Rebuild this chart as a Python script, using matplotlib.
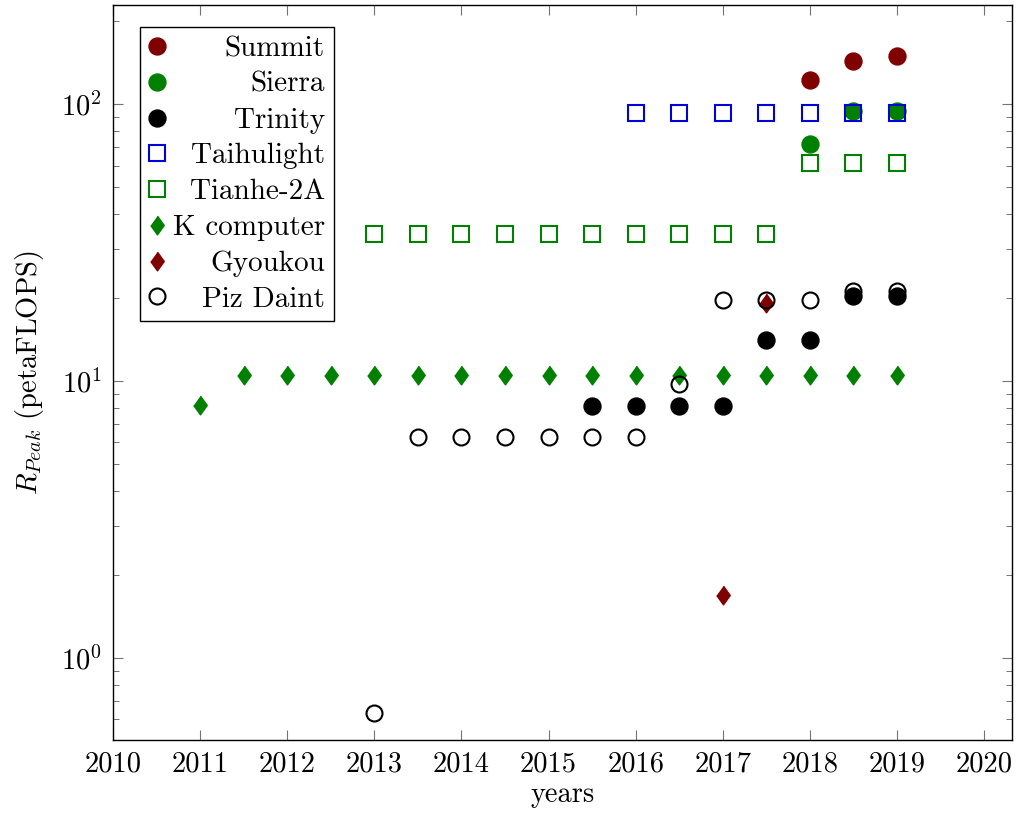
import matplotlib
matplotlib.use("Agg")
import matplotlib.pyplot as plt
from matplotlib.ticker import LogLocator, FixedLocator, NullFormatter

plt.rcParams['font.family'] = 'serif'
plt.rcParams['font.serif'] = ['cmr10']
plt.rcParams['mathtext.fontset'] = 'cm'
plt.rcParams['axes.unicode_minus'] = False
plt.rcParams['axes.formatter.use_mathtext'] = True

summit_x = [2018, 2018.5, 2019]
summit_y = [122.3, 143.5, 148.6]
sierra_x = [2018, 2018.5, 2019]
sierra_y = [71.6, 94.6, 94.6]
trinity_x = [2015.5, 2016, 2016.5, 2017, 2017.5, 2018, 2018.5, 2019]
trinity_y = [8.1, 8.1, 8.1, 8.1, 14.1, 14.1, 20.2, 20.2]
taihu_x = [2016, 2016.5, 2017, 2017.5, 2018, 2018.5, 2019]
taihu_y = [93.0, 93.0, 93.0, 93.0, 93.0, 93.0, 93.0]
tianhe_x = [2013, 2013.5, 2014, 2014.5, 2015, 2015.5, 2016, 2016.5, 2017, 2017.5, 2018, 2018.5, 2019]
tianhe_y = [33.9, 33.9, 33.9, 33.9, 33.9, 33.9, 33.9, 33.9, 33.9, 33.9, 61.4, 61.4, 61.4]
k_x = [2011, 2011.5, 2012, 2012.5, 2013, 2013.5, 2014, 2014.5, 2015, 2015.5, 2016, 2016.5, 2017, 2017.5, 2018, 2018.5, 2019]
k_y = [8.16, 10.51, 10.51, 10.51, 10.51, 10.51, 10.51, 10.51, 10.51, 10.51, 10.51, 10.51, 10.51, 10.51, 10.51, 10.51, 10.51]
gyoukou_x = [2017, 2017.5]
gyoukou_y = [1.68, 19.1]
piz_x = [2013, 2013.5, 2014, 2014.5, 2015, 2015.5, 2016, 2016.5, 2017, 2017.5, 2018, 2018.5, 2019]
piz_y = [0.63, 6.27, 6.27, 6.27, 6.27, 6.27, 6.27, 9.78, 19.6, 19.6, 19.6, 21.2, 21.2]

xticks = [2010, 2011, 2012, 2013, 2014, 2015, 2016, 2017, 2018, 2019, 2020]

maroon = (0.5, 0, 0)
green = (0, 0.5, 0)
diamond = [(0, 1), (0.72, 0), (0, -1), (-0.72, 0)]

fig = plt.figure(figsize=(10.19, 8.14), dpi=100)
ax = fig.add_axes([113/1019, 1-740/814, (1012-113)/1019, (740-5)/814])

kw = dict(linestyle='none')
ax.plot(summit_x, summit_y, marker='o', ms=12.2, color=maroon, mec=maroon, label='Summit', **kw)
ax.plot(sierra_x, sierra_y, marker='o', ms=12.2, color=green, mec=green, label='Sierra', **kw)
ax.plot(trinity_x, trinity_y, marker='o', ms=12.2, color='black', label='Trinity', **kw)
ax.plot(taihu_x, taihu_y, marker='s', ms=11, mfc='none', mec=(0, 0, 0.85), mew=1.5, label='Taihulight', **kw)
ax.plot(tianhe_x, tianhe_y, marker='s', ms=11, mfc='none', mec=green, mew=1.5, label='Tianhe-2A', **kw)
ax.plot(k_x, k_y, marker=diamond, ms=13.5, color=green, mec=green, label='K computer', **kw)
ax.plot(gyoukou_x, gyoukou_y, marker=diamond, ms=13.5, color=maroon, mec=maroon, label='Gyoukou', **kw)
ax.plot(piz_x, piz_y, marker='o', ms=11.5, mfc='none', mec='black', mew=1.5, label='Piz Daint', **kw)

ax.set_yscale('log')
ax.set_xlim(2010, 2020.32)
ax.set_ylim(0.505, 228)
ax.xaxis.set_major_locator(FixedLocator(xticks))
ax.set_xticklabels([str(t) for t in xticks])
ax.yaxis.set_major_locator(LogLocator(base=10, numticks=10))
ax.yaxis.set_minor_locator(LogLocator(base=10, subs=[2, 3, 4, 5, 6, 7, 8, 9], numticks=20))
ax.yaxis.set_minor_formatter(NullFormatter())

ax.tick_params(axis='both', which='both', direction='in', top=True, right=True,
               color='0.45', labelsize=20.5)
ax.tick_params(axis='both', which='major', length=7, width=0.8, pad=8)
ax.tick_params(axis='y', which='minor', length=4.5, width=0.7)
for s in ax.spines.values():
    s.set_linewidth(1.0)
    s.set_color('black')

ax.set_xlabel('years', fontsize=20.5, labelpad=3)
ax.set_ylabel('$R_{Peak}$ (petaFLOPS)', fontsize=20.5, labelpad=11)

leg = ax.legend(loc='upper left', bbox_to_anchor=(0.030, 0.970), borderaxespad=0,
                fontsize=21, frameon=True, fancybox=False, edgecolor='black',
                framealpha=1, handlelength=0.56, handletextpad=0.16, labelspacing=0.32,
                borderpad=0.3, numpoints=1)
leg.get_frame().set_linewidth(1.0)

# right-align legend labels while keeping markers on the left
fig.canvas.draw()
renderer = fig.canvas.get_renderer()
rows = []
for col in leg._legend_handle_box.get_children():
    for row in col.get_children():
        rows.append(row)
maxw = max(r.get_bbox(renderer).width for r in rows)
for r in rows:
    r.mode = 'expand'
    r.width = maxw + 3

fig.savefig('out.png', dpi=100)
